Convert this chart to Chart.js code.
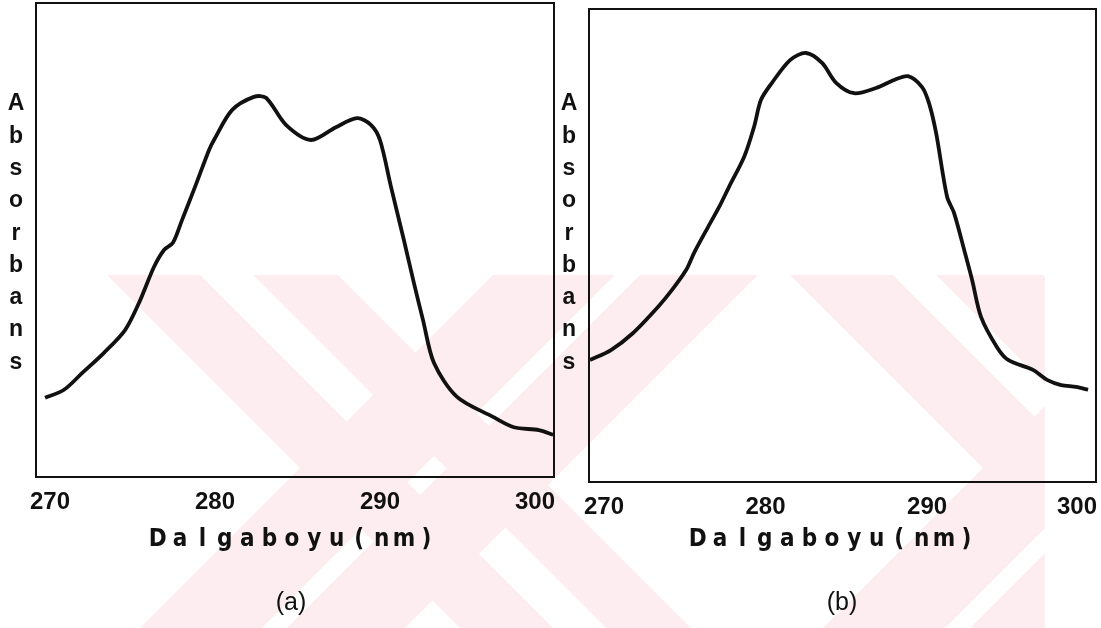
<!DOCTYPE html>
<html>
<head>
<meta charset="utf-8">
<script src="https://cdn.jsdelivr.net/npm/chart.js@4/dist/chart.umd.min.js"></script>
<style>
    body { margin: 0; background: #fff; width: 1101px; height: 628px; overflow: hidden; position: relative; }
    canvas { position: absolute; top: 0; }
    #watermark { left: 0; }
    #chartA { left: 0; }
    #chartB { left: 560px; }
</style>
</head>
<body>
<canvas id="watermark" width="1101" height="628"></canvas>
<canvas id="chartA" width="560" height="628"></canvas>
<canvas id="chartB" width="541" height="628"></canvas>
<script>
// Spektrum (a)
const WAVE_A = [269.7, 270.85, 271.94, 273.27, 274.55, 275.39, 276.3, 276.91, 277.45, 278.0, 278.79, 279.64,
    279.94, 281.03, 282.36, 283.09, 284.3, 285.82, 287.33, 288.61, 289.45, 290.0, 290.67, 291.45, 292.06,
    292.61, 293.27, 294.67, 296.85, 298.12, 299.64, 300.5];
const ABS_A = [0.167, 0.184, 0.219, 0.262, 0.31, 0.367, 0.443, 0.479, 0.494, 0.542, 0.612, 0.69,
    0.711, 0.774, 0.802, 0.8, 0.743, 0.711, 0.738, 0.757, 0.743, 0.711, 0.612, 0.5, 0.409,
    0.331, 0.241, 0.169, 0.127, 0.105, 0.099, 0.089];

// Spektrum (b)
const WAVE_B = [269.13, 270.43, 271.8, 273.34, 274.21, 275.08, 275.57, 276.44, 277.12, 277.74, 278.67, 279.29,
    279.72, 280.4, 281.52, 282.51, 283.5, 284.37, 285.48, 286.84, 287.96, 288.82, 289.69, 290.12, 290.56,
    291.24, 291.67, 292.35, 292.79, 293.34, 294.33, 295.02, 296.56, 297.43, 298.3, 299.23, 299.97];
const ABS_B = [0.258, 0.279, 0.315, 0.37, 0.406, 0.448, 0.484, 0.539, 0.581, 0.624, 0.687, 0.751,
    0.808, 0.844, 0.892, 0.907, 0.886, 0.844, 0.822, 0.833, 0.85, 0.858, 0.835, 0.801, 0.738,
    0.603, 0.569, 0.484, 0.427, 0.349, 0.285, 0.258, 0.237, 0.216, 0.205, 0.201, 0.195];

const X_TICKS = [270, 280, 290, 300];
const Y_TITLE = 'Absorbans';
const X_TITLE = 'Dalgaboyu(nm)';
const CAPTIONS = ['(a)', '(b)'];

const INK = '#111';

// tło: soluk pembe filigran (çapraz şeritler)
function drawWatermark() {
    const ctx = document.getElementById('watermark').getContext('2d');
    const top = 275, bottom = 628;
    const back = [[-168, -75], [-22, 63], [515, 618], [661, 768]];   // x - y = c
    const fwd = [[768, 890], [915, 1033], [1451, 1573], [1598, 1716]]; // x + y = c
    ctx.save();
    ctx.beginPath();
    ctx.rect(107, top, 1045 - 107, bottom - top);
    ctx.clip();
    ctx.fillStyle = 'rgb(253,237,240)';
    back.forEach(([c1, c2]) => {
        ctx.beginPath();
        ctx.moveTo(top + c1, top); ctx.lineTo(top + c2, top);
        ctx.lineTo(bottom + c2, bottom); ctx.lineTo(bottom + c1, bottom);
        ctx.fill();
    });
    fwd.forEach(([c1, c2]) => {
        ctx.beginPath();
        ctx.moveTo(c1 - top, top); ctx.lineTo(c2 - top, top);
        ctx.lineTo(c2 - bottom, bottom); ctx.lineTo(c1 - bottom, bottom);
        ctx.fill();
    });
    ctx.restore();
}

const panelDecor = {
    id: 'panelDecor',
    afterDraw(chart, args, opts) {
        const { ctx, chartArea: a, scales: { x } } = chart;
        ctx.save();
        ctx.strokeStyle = INK;
        ctx.lineWidth = 2;
        ctx.strokeRect(a.left, a.top, a.width, a.height);

        ctx.fillStyle = INK;
        ctx.textAlign = 'center';
        ctx.textBaseline = 'middle';

        ctx.font = 'bold 24px "Liberation Sans", Arial, sans-serif';
        X_TICKS.forEach((v) => {
            const label = String(v);
            const w = ctx.measureText(label).width;
            const px = Math.min(x.getPixelForValue(v), a.right - w / 2 + 1);
            ctx.fillText(label, px, a.bottom + 25);
        });

        ctx.font = 'bold 23px "Liberation Sans", Arial, sans-serif';
        Y_TITLE.split('').forEach((ch, i) => {
            ctx.fillText(ch, a.left - 20, 104 + i * 32.3);
        });

        ctx.font = 'bold 24px "Liberation Sans Narrow", "DejaVu Sans Condensed", "Liberation Sans", sans-serif';
        const chars = X_TITLE.split('');
        const pitch = 22.4;
        chars.forEach((ch, i) => {
            ctx.fillText(ch, opts.titleX + (i - (chars.length - 1) / 2) * pitch, 540);
        });

        ctx.font = '25px "Liberation Sans", Arial, sans-serif';
        ctx.fillText(opts.caption, opts.captionX, 603);
        ctx.restore();
    },
};

function buildPanel(canvasId, waves, values, xMin, xMax, padding, decor) {
    return new Chart(document.getElementById(canvasId), {
        type: 'line',
        data: {
            datasets: [{
                data: waves.map((w, i) => ({ x: w, y: values[i] })),
                borderColor: INK,
                borderWidth: 3.8,
                pointRadius: 0,
                tension: 0.3,
                fill: false,
            }],
        },
        options: {
            responsive: false,
            animation: false,
            layout: { padding },
            scales: {
                x: { type: 'linear', min: xMin, max: xMax, display: false },
                y: { min: 0, max: 1, display: false },
            },
            plugins: {
                legend: { display: false },
                tooltip: { enabled: false },
                panelDecor: decor,
            },
        },
        plugins: [panelDecor],
    });
}

drawWatermark();
buildPanel('chartA', WAVE_A, ABS_A, 269.15, 300.55,
    { left: 36, top: 3, right: 6, bottom: 151 },
    { titleX: 292, caption: CAPTIONS[0], captionX: 291 });
buildPanel('chartB', WAVE_B, ABS_B, 269.07, 300.46,
    { left: 29, top: 9, right: 5, bottom: 146 },
    { titleX: 272, caption: CAPTIONS[1], captionX: 282 });
</script>
</body>
</html>
